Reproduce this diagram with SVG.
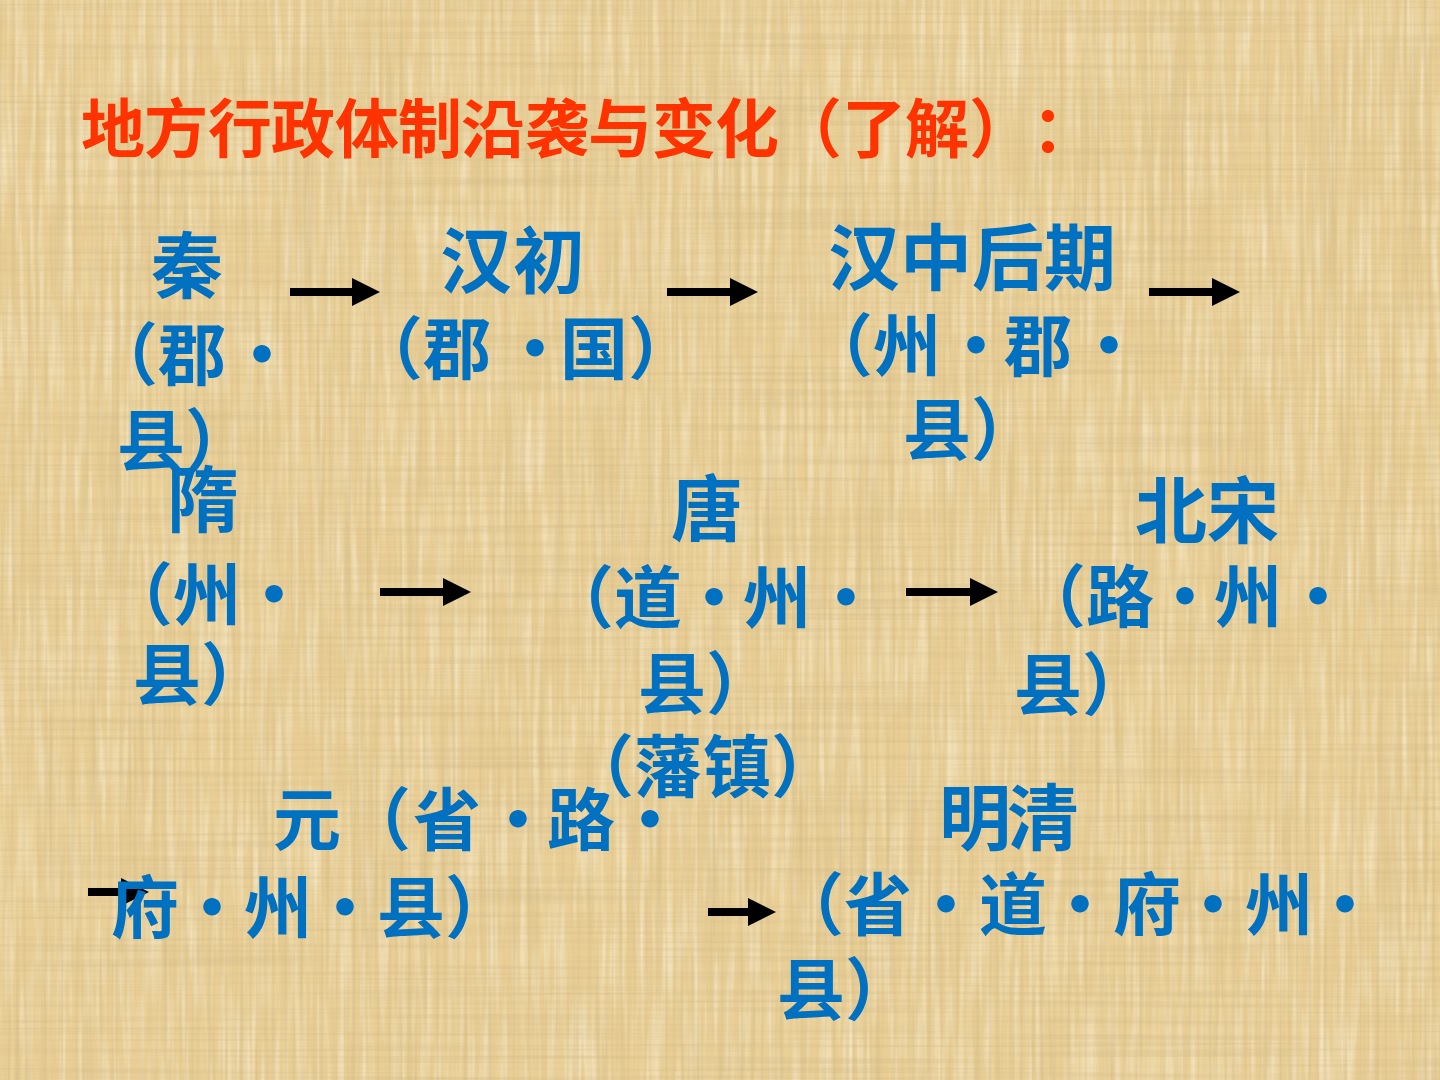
<svg xmlns="http://www.w3.org/2000/svg" width="1440" height="1080" viewBox="0 0 1440 1080">
<defs>
<style>
.t{font-family:"Noto Sans CJK SC","Noto Sans CJK TC",sans-serif;font-weight:bold;text-anchor:middle}
.title{fill:#ff3300;font-size:64px}
.h{fill:#0070c0;font-size:72px}
.b{fill:#0070c0;font-size:68px}
.arr{stroke:#000;stroke-width:8;fill:none;marker-end:url(#ah)}
</style>
<marker id="ah" markerUnits="userSpaceOnUse" markerWidth="28" markerHeight="30" refX="0" refY="15" orient="auto">
<path d="M0,1 L28,15 L0,29 Z" fill="#000"/>
</marker>
<filter id="vt" x="0" y="0" width="100%" height="100%">
<feTurbulence type="fractalNoise" baseFrequency="0.25 0.003" numOctaves="2" seed="4"/>
<feColorMatrix type="matrix" values="0 0 0 0 0.60  0 0 0 0 0.45  0 0 0 0 0.22  2 0 0 0 -0.85"/>
</filter>
<filter id="ht" x="0" y="0" width="100%" height="100%">
<feTurbulence type="fractalNoise" baseFrequency="0.003 0.25" numOctaves="2" seed="9"/>
<feColorMatrix type="matrix" values="0 0 0 0 0.60  0 0 0 0 0.45  0 0 0 0 0.22  2 0 0 0 -0.85"/>
</filter>
<filter id="lt" x="0" y="0" width="100%" height="100%">
<feTurbulence type="fractalNoise" baseFrequency="0.15 0.01" numOctaves="2" seed="2"/>
<feColorMatrix type="matrix" values="0 0 0 0 1  0 0 0 0 0.96  0 0 0 0 0.82  1.8 0 0 0 -0.75"/>
</filter>
</defs>
<g id="background">
<rect width="1440" height="1080" fill="#e9cf96"/>
<rect width="1440" height="1080" filter="url(#lt)" opacity="0.6"/>
<rect width="1440" height="1080" filter="url(#vt)" opacity="0.5"/>
<rect width="1440" height="1080" filter="url(#ht)" opacity="0.4"/>
</g>
<g id="title">
<text class="t title" x="113 176 240 303 367 430 493 557 620 684 747 810 874 937 1001 1064" y="152">地方行政体制沿袭与变化（了解）：</text>
</g>
<g id="connectors">
<line class="arr" x1="290" y1="292" x2="352" y2="292"/>
<line class="arr" x1="667" y1="292" x2="730" y2="292"/>
<line class="arr" x1="1149" y1="292" x2="1212" y2="292"/>
<line class="arr" x1="380" y1="592" x2="443" y2="592"/>
<line class="arr" x1="906" y1="592" x2="970" y2="592"/>
<line class="arr" x1="88" y1="892" x2="121" y2="892"/>
<line class="arr" x1="708" y1="912" x2="748" y2="912"/>
</g>
<g id="node-qin">
<text class="t h" x="187" y="292">秦</text>
<text class="t b" x="124 192 262" y="380">（郡·</text>
<text class="t b" x="151 219" y="466">县）</text>
</g>
<g id="node-hanchu">
<text class="t h" x="476 549" y="287">汉初</text>
<text class="t b" x="389 457 535 594 662" y="374">（郡·国）</text>
</g>
<g id="node-hanzhonghouqi">
<text class="t h" x="864 936 1008 1080" y="284">汉中后期</text>
<text class="t b" x="839 907 976 1038 1109" y="371">（州·郡·</text>
<text class="t b" x="937 1005" y="455">县）</text>
</g>
<g id="node-sui">
<text class="t h" x="203" y="526">隋</text>
<text class="t b" x="139 207 274" y="620">（州·</text>
<text class="t b" x="167 235" y="700">县）</text>
</g>
<g id="node-tang">
<text class="t h" x="707" y="535">唐</text>
<text class="t b" x="580 648 714 777 846" y="623">（道·州·</text>
<text class="t b" x="672 740" y="709">县）</text>
<text class="t b" x="600 668 737 805" y="792">（藩镇）</text>
</g>
<g id="node-beisong">
<text class="t h" x="1171 1243" y="537">北宋</text>
<text class="t b" x="1052 1120 1185 1248 1318" y="622">（路·州·</text>
<text class="t b" x="1048 1116" y="710">县）</text>
</g>
<g id="node-yuan">
<text class="t b" x="307 377 447 518 581 650" y="845">元（省·路·</text>
<text class="t b" x="145 212 278 345 411 479" y="933">府·州·县）</text>
</g>
<g id="node-mingqing">
<text class="t h" x="975 1043" y="844">明清</text>
<text class="t b" x="810 878 946 1013 1080 1147 1213 1279 1345" y="930">（省·道·府·州·</text>
<text class="t b" x="811 879" y="1015">县）</text>
</g>
</svg>
